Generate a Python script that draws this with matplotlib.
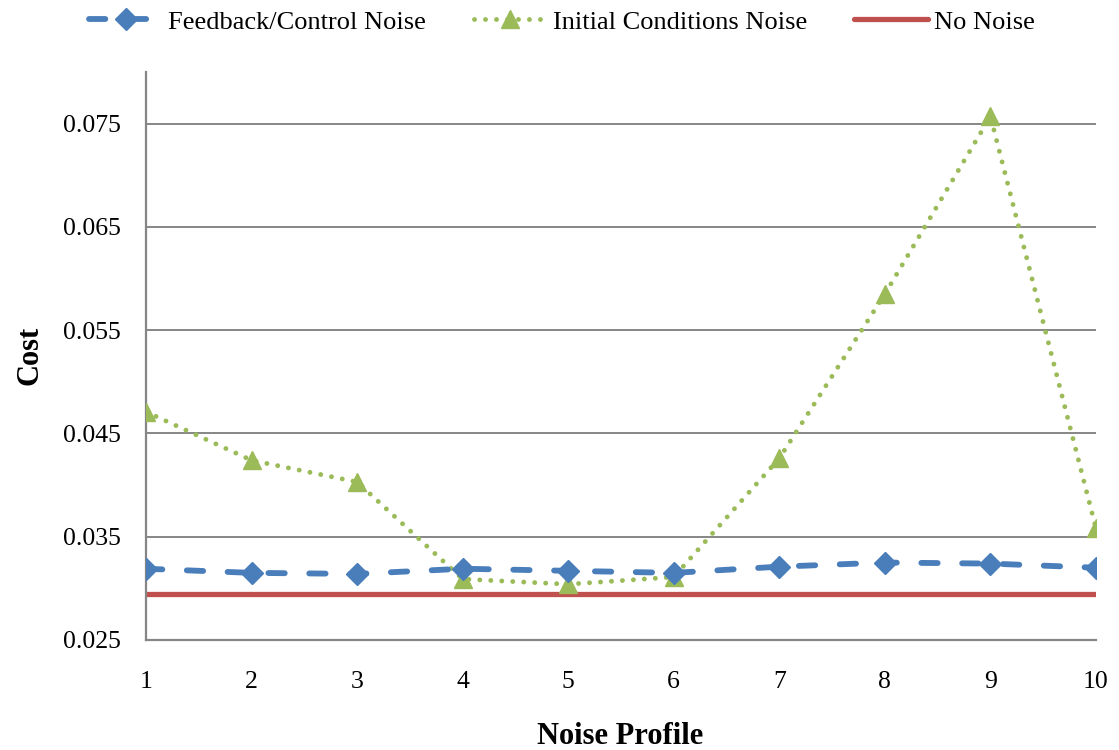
import matplotlib
matplotlib.use("Agg")
import matplotlib.pyplot as plt

# Noise profiles on the horizontal axis
profiles = [1, 2, 3, 4, 5, 6, 7, 8, 9, 10]

# Cost per noise profile for each noise source
feedback_cost = [0.0319, 0.0315, 0.0314, 0.0319, 0.0317, 0.0315, 0.0321, 0.0325, 0.0324, 0.0320]
initial_cost = [0.0471, 0.0424, 0.0403, 0.0309, 0.0304, 0.0311, 0.0426, 0.0585, 0.0757, 0.0358]
no_noise_cost = [0.0295] * len(profiles)

series_labels = ["Feedback/Control Noise", "Initial Conditions Noise", "No Noise"]
y_ticks = [0.025, 0.035, 0.045, 0.055, 0.065, 0.075]
y_tick_labels = ["0.025", "0.035", "0.045", "0.055", "0.065", "0.075"]

plt.rcParams["font.family"] = ["Liberation Serif", "DejaVu Serif"]

fig = plt.figure(figsize=(11.19, 7.5), dpi=100)
ax = fig.add_axes([146 / 1119, 110 / 750, 950 / 1119, 568 / 750])

grid_color = "#868686"
for y in y_ticks:
    ax.axhline(y, color=grid_color, lw=1.4, zorder=1)

blue = "#4A7EBB"
green = "#9BBB59"
red = "#C0504D"

ax.plot(profiles, no_noise_cost, color=red, lw=3.8, solid_capstyle="round",
        label=series_labels[2], zorder=2)
ax.plot(profiles, initial_cost, color=green, lw=3.5, dashes=(0.01, 2.25),
        dash_capstyle="round", marker="^", markersize=13.5, markerfacecolor=green,
        markeredgecolor=green, label=series_labels[1], zorder=3)
ax.plot(profiles, feedback_cost, color=blue, lw=4.2, dashes=(2.8, 4.2),
        dash_capstyle="round", marker="D", markersize=11.5, markerfacecolor=blue,
        markeredgecolor=blue, label=series_labels[0], zorder=4)

ax.set_xlim(1, 10)
ax.set_ylim(0.025, 0.080)
ax.set_xticks(profiles)
ax.set_xticklabels([str(p) for p in profiles])
ax.set_yticks(y_ticks)
ax.set_yticklabels(y_tick_labels)
ax.tick_params(axis="both", length=0, labelsize=18.5, colors="black")
ax.tick_params(axis="y", pad=18)
ax.tick_params(axis="x", pad=22)

for side in ("top", "right"):
    ax.spines[side].set_visible(False)
for side in ("left", "bottom"):
    ax.spines[side].set_color(grid_color)
    ax.spines[side].set_linewidth(1.6)

fig.text(30 / 1119, 1 - 355 / 750, "Cost", rotation=90, ha="center", va="center",
         fontsize=22, fontweight="bold")
fig.text(620 / 1119, 1 - 736 / 750, "Noise Profile", ha="center", va="center",
         fontsize=22, fontweight="bold")

handles, labels = ax.get_legend_handles_labels()
order = [labels.index(l) for l in series_labels]
fig.legend([handles[i] for i in order], [labels[i] for i in order],
           loc="center", bbox_to_anchor=(0.502, 1 - 22 / 750), ncol=3,
           frameon=False, fontsize=19, handlelength=2.8, handletextpad=0.2,
           columnspacing=1.8, borderaxespad=0)

fig.savefig("out.png", dpi=100)
